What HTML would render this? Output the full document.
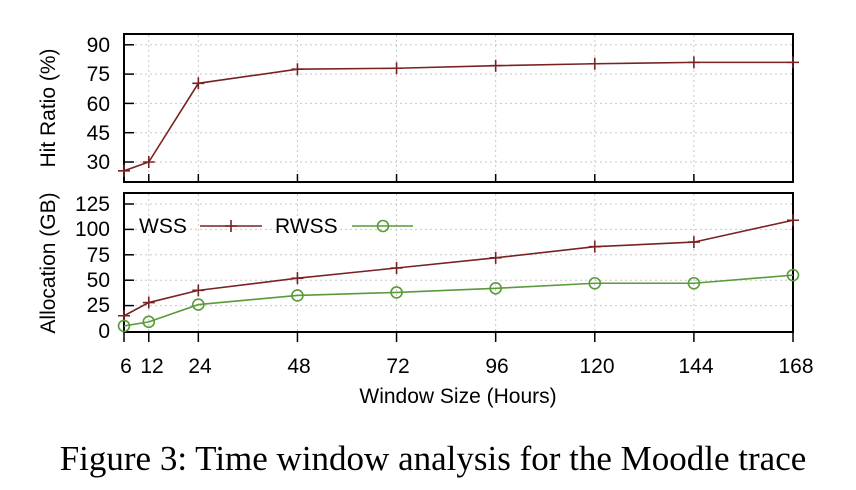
<!DOCTYPE html>
<html><head><meta charset="utf-8"><style>
html,body{margin:0;padding:0;background:#fff;}
svg{display:block;}
text{font-family:"Liberation Sans",sans-serif;fill:#000;}
</style></head><body>
<svg id="s" width="856" height="490" viewBox="0 0 856 490" xmlns="http://www.w3.org/2000/svg">
<g id="grid" stroke="#c8c8c8" stroke-width="1" stroke-dasharray="2,3"></g>
<g id="ticks" stroke="#000" stroke-width="1.5"></g>
<rect x="124" y="34" width="669" height="148" fill="none" stroke="#000" stroke-width="2"/>
<rect x="124" y="193" width="669" height="139" fill="none" stroke="#000" stroke-width="2"/>
<g id="series"></g>
<g font-size="21" text-anchor="end">
<text x="110" y="52">90</text><text x="110" y="81">75</text><text x="110" y="111">60</text><text x="110" y="140">45</text><text x="110" y="169">30</text>
<text x="110" y="211">125</text><text x="110" y="236">100</text><text x="110" y="262">75</text><text x="110" y="287">50</text><text x="110" y="312">25</text><text x="110" y="338">0</text>
</g>
<g font-size="21" text-anchor="middle">
<text x="126" y="373">6</text><text x="152" y="373">12</text><text x="200" y="373">24</text><text x="299" y="373">48</text><text x="398" y="373">72</text><text x="497" y="373">96</text><text x="597" y="373">120</text><text x="696" y="373">144</text><text x="796" y="373">168</text>
</g>
<text x="458" y="403" font-size="21" text-anchor="middle">Window Size (Hours)</text>
<text transform="translate(55,108) rotate(-90)" font-size="21" text-anchor="middle">Hit Ratio (%)</text>
<text transform="translate(55,263) rotate(-90)" font-size="21" text-anchor="middle">Allocation (GB)</text>
<text x="139" y="233" font-size="21">WSS</text>
<text x="275" y="233" font-size="21">RWSS</text>
<text x="433" y="470" font-size="35" text-anchor="middle" style="font-family:'Liberation Serif',serif">Figure 3: Time window analysis for the Moodle trace</text>
</svg>
<script>
var NS="http://www.w3.org/2000/svg";
function X(h){return 124+(h-6)*669/162;}
function Y1(v){return 162-(v-30)*29.3/15;}
function Y2(v){return 331-v*25.4/25;}
function el(p,t,a){var e=document.createElementNS(NS,t);for(var k in a)e.setAttribute(k,a[k]);p.appendChild(e);return e;}
var xs=[6,12,24,48,72,96,120,144,168];
var g=document.getElementById('grid'),tk=document.getElementById('ticks'),s=document.getElementById('series');
xs.forEach(function(h){var x=X(h);
 if(h>6&&h<168){el(g,'line',{x1:x,y1:35,x2:x,y2:181});el(g,'line',{x1:x,y1:194,x2:x,y2:331});}
 el(tk,'line',{x1:x,y1:182,x2:x,y2:174});el(tk,'line',{x1:x,y1:332,x2:x,y2:342});});
[90,75,60,45,30].forEach(function(v){var y=Y1(v);el(g,'line',{x1:125,y1:y,x2:792,y2:y});el(tk,'line',{x1:124,y1:y,x2:134,y2:y});});
[125,100,75,50,25].forEach(function(v){var y=Y2(v);el(g,'line',{x1:125,y1:y,x2:792,y2:y});el(tk,'line',{x1:124,y1:y,x2:134,y2:y});});
var hr=[25.5,30,70.3,77.5,78,79.3,80.3,81,81],ws=[15,28,40,52,62,72,83,87.5,109],rw=[5,9,26,35,38,42,47,47,55];
var red="#7a2222",grn="#5a9a3a";
function line(vals,Y,c){var p=xs.map(function(h,i){return X(h)+','+Y(vals[i]);}).join(' ');el(s,'polyline',{points:p,fill:'none',stroke:c,'stroke-width':1.6});}
function plus(x,y){el(s,'path',{d:'M'+(x-6)+' '+y+'h12M'+x+' '+(y-6)+'v12',stroke:red,'stroke-width':1.6});}
function circ(x,y){el(s,'circle',{cx:x,cy:y,r:5.5,fill:'none',stroke:grn,'stroke-width':1.6});}
line(hr,Y1,red);hr.forEach(function(v,i){plus(X(xs[i]),Y1(v));});
line(ws,Y2,red);ws.forEach(function(v,i){plus(X(xs[i]),Y2(v));});
line(rw,Y2,grn);rw.forEach(function(v,i){circ(X(xs[i]),Y2(v));});
el(s,'line',{x1:200,y1:226,x2:262,y2:226,stroke:red,'stroke-width':1.6});plus(231,226);
el(s,'line',{x1:352,y1:226,x2:413,y2:226,stroke:grn,'stroke-width':1.6});circ(383,226);
</script>
</body></html>
